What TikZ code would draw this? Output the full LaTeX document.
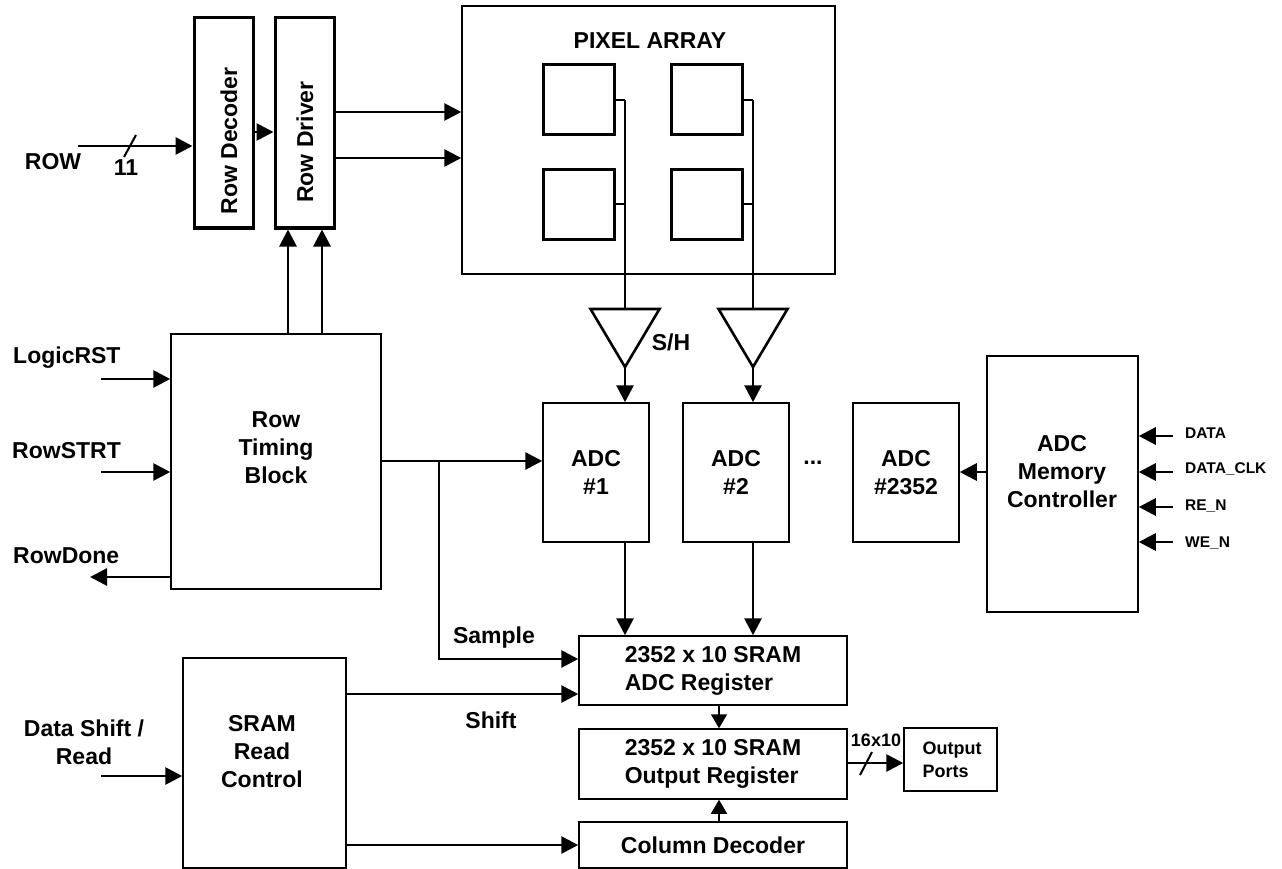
\documentclass[tikz,border=0pt]{standalone}
\usepackage{fontspec}
\setmainfont{Liberation Sans}
\usetikzlibrary{arrows.meta,positioning,calc}

\begin{document}
\begin{tikzpicture}[x=1pt,y=-1pt,
  blk/.style={draw, line width=1.5pt, inner sep=0pt, align=center, font=\fontsize{23}{28}\selectfont\bfseries},
  tblk/.style={draw, line width=3pt, inner sep=0pt},
  pix/.style={draw, line width=3pt, inner sep=0pt, minimum width=71pt, minimum height=70pt},
  lbl/.style={inner sep=0pt, align=center, font=\fontsize{23}{28}\selectfont\bfseries},
  pinlbl/.style={inner sep=0pt, anchor=west, font=\fontsize{15.5}{18}\selectfont\bfseries},
  smlbl/.style={inner sep=0pt, align=left, font=\fontsize{18}{23}\selectfont\bfseries},
  sig/.style={line width=2.8pt, -{Triangle[length=17pt,width=17pt]}},
  tap/.style={line width=1.6pt, -{Triangle[length=14pt,width=16pt]}},
  wire/.style={line width=2.8pt},
  stub/.style={line width=2pt},
  amp/.style={draw, line width=2.6pt, line join=miter}]
\useasboundingbox (0,0) rectangle (1282,869);

\node[tblk, minimum width=59pt, minimum height=210pt] (rdec) at (223.5,123) {};
\node[tblk, minimum width=59pt, minimum height=210pt] (rdrv) at (304.5,123) {};
\node[lbl, rotate=90] (rdect) at (229,141) {Row Decoder};
\node[lbl, rotate=90] (rdrvt) at (305,142) {Row Driver};
\node[blk, minimum width=373pt, minimum height=268pt] (parr) at (648.5,140) {};
\node[lbl] (parrt) at (650,41) {PIXEL ARRAY};
\node[pix] (p11) at (578.5,100) {};
\node[pix] (p12) at (707,100) {};
\node[pix] (p21) at (578.5,204.5) {};
\node[pix] (p22) at (707,204.5) {};

\node[blk, minimum width=210pt, minimum height=255pt] (rtb) at (276,461.5) {};
\node[lbl] (rtbt) at (276,448) {Row\\Timing\\Block};
\node[blk, minimum width=163pt, minimum height=210pt] (srctl) at (264.5,763) {};
\node[lbl] (srctlt) at (262,752) {SRAM\\Read\\Control};

\node[blk, minimum width=106pt, minimum height=139pt] (adc1) at (596,472.5) {ADC\\\#1};
\node[blk, minimum width=106pt, minimum height=139pt] (adc2) at (736,472.5) {ADC\\\#2};
\node[blk, minimum width=106pt, minimum height=139pt] (adc3) at (906,472.5) {ADC\\\#2352};
\node[lbl] (dots) at (813,463) {...};
\node[blk, minimum width=151pt, minimum height=256pt] (mctl) at (1062.5,484) {};
\node[lbl] (mctlt) at (1062,472) {ADC\\Memory\\Controller};

\node[blk, minimum width=268pt, minimum height=69pt, align=left] (adcreg) at (713,670.5) {2352 x 10 SRAM\\ADC Register};
\node[blk, minimum width=268pt, minimum height=70pt, align=left] (outreg) at (713,764) {2352 x 10 SRAM\\Output Register};
\node[blk, minimum width=268pt, minimum height=46pt] (coldec) at (713,845) {Column Decoder};
\node[blk, minimum width=93pt, minimum height=63pt] (oports) at (950.5,759.5) {};
\node[smlbl] (oportst) at (952,760) {Output\\Ports};

\node[lbl] (rowl) at (53,162) {ROW};
\node[lbl] (rowbits) at (126,168) {11};
\node[lbl, anchor=west] (lrstl) at (13,358) {LogicRST};
\node[lbl, anchor=west] (rstrtl) at (12,451) {RowSTRT};
\node[lbl, anchor=west] (rdonel) at (13,556) {RowDone};
\node[lbl] (dsrl) at (84,742) {Data Shift /\\Read};
\node[lbl] (samplel) at (494,638) {Sample};
\node[lbl] (shiftl) at (491,720) {Shift};
\node[lbl] (shl) at (671,342) {S/H};
\node[smlbl] (obits) at (876,740) {16x10};
\node[pinlbl] (datal) at (1185,433) {DATA};
\node[pinlbl] (dclkl) at (1185,469) {DATA\_CLK};
\node[pinlbl] (renl) at (1185,506) {RE\_N};
\node[pinlbl] (wenl) at (1185,543) {WE\_N};

\coordinate (rowin) at (78,146);
\draw[sig] (rowin) -- (rowin -| rdec.west);
\draw[stub] (136,135) -- (124,157);
\draw[sig] (rdec.east |- 0,132) -- (rdrv.west |- 0,132);
\draw[sig] (rdrv.east |- 0,112) -- (parr.west |- 0,112);
\draw[sig] (rdrv.east |- 0,158) -- (parr.west |- 0,158);
\draw[sig] (rtb.north -| 288,0) -- (rdrv.south -| 288,0);
\draw[sig] (rtb.north -| 322,0) -- (rdrv.south -| 322,0);

\coordinate (w1) at (625,100);
\coordinate (w2) at (753,100);
\coordinate (sh1) at (625,309);
\coordinate (sh2) at (753,309);
\coordinate (sh1a) at (625,367);
\coordinate (sh2a) at (753,367);
\draw[stub] (p11.east) -- (w1);
\draw[stub] (p21.east) -- (p21.east -| w1);
\draw[stub] (p12.east) -- (w2);
\draw[stub] (p22.east) -- (p22.east -| w2);
\draw[wire] (w1) -- (sh1);
\draw[wire] (w2) -- (sh2);
\draw[amp] ($(sh1)+(-34.5,0)$) -- ($(sh1)+(34.5,0)$) -- (sh1a) -- cycle;
\draw[amp] ($(sh2)+(-34.5,0)$) -- ($(sh2)+(34.5,0)$) -- (sh2a) -- cycle;
\draw[sig] (sh1a) -- (sh1a |- adc1.north);
\draw[sig] (sh2a) -- (sh2a |- adc2.north);

\coordinate (lrsti) at (101,379);
\coordinate (rstrti) at (101,472);
\coordinate (rdoneo) at (90,577);
\draw[sig] (lrsti) -- (lrsti -| rtb.west);
\draw[sig] (rstrti) -- (rstrti -| rtb.west);
\draw[sig] (rdoneo -| rtb.west) -- (rdoneo);

\coordinate (jn) at (439,461);
\draw[sig] (rtb.east |- jn) -- (jn -| adc1.west);
\draw[sig] (jn) |- (adcreg.west |- 0,659);
\draw[sig] (srctl.east |- 0,694) -- (adcreg.west |- 0,694);
\draw[sig] (coldec.west -| srctl.east) -- (coldec.west);
\coordinate (dsri) at (101,776);
\draw[sig] (dsri) -- (dsri -| srctl.west);

\draw[sig] (adc1.south -| sh1a) -- (adcreg.north -| sh1a);
\draw[sig] (adc2.south -| sh2a) -- (adcreg.north -| sh2a);
\draw[tap] (adcreg.south -| 719,0) -- (outreg.north -| 719,0);
\draw[tap] (coldec.north -| 719,0) -- (outreg.south -| 719,0);
\draw[sig] (outreg.east |- 0,763) -- (oports.west |- 0,763);
\draw[stub] (872,752) -- (860,775);

\draw[sig] (mctl.west |- 0,472) -- (adc3.east |- 0,472);
\foreach \n/\y in {data/436,dclk/472,ren/507,wen/542}{
  \coordinate (\n i) at (1173,\y);
  \draw[sig] (\n i) -- (\n i -| mctl.east);
}
\end{tikzpicture}
\end{document}
